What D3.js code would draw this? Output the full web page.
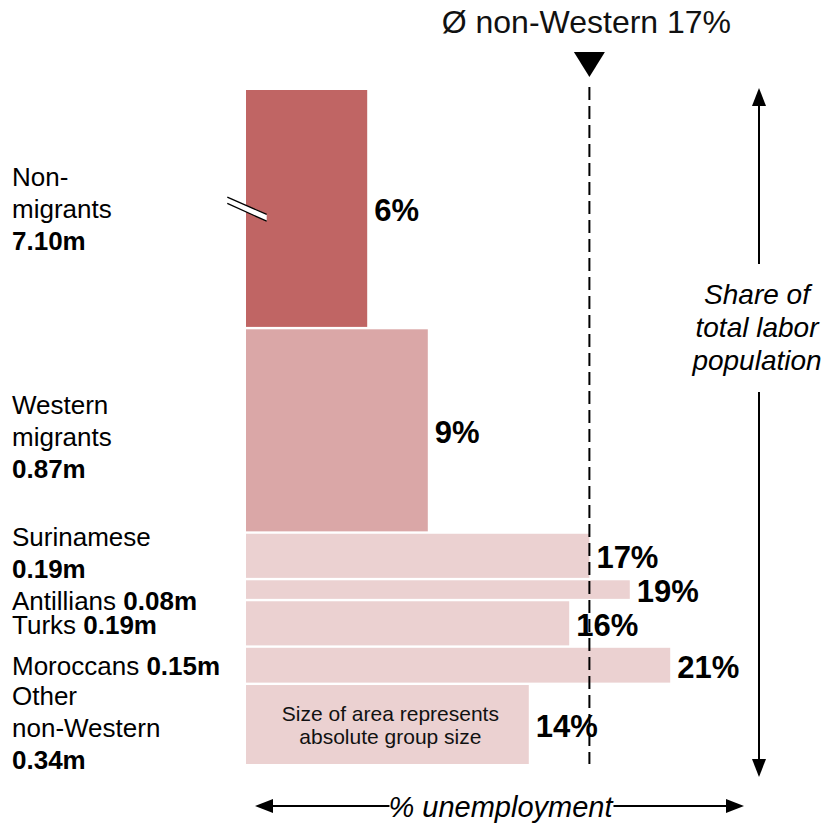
<!DOCTYPE html>
<html>
<head>
<meta charset="utf-8">
<script src="https://cdn.jsdelivr.net/npm/d3@7"></script>
<style>
  html, body { margin: 0; padding: 0; background: #fff; }
  svg { display: block; font-family: "Liberation Sans", Arial, Helvetica, sans-serif; }
</style>
</head>
<body>
<svg id="chart" width="829" height="826"></svg>
<script>
// ---- data -------------------------------------------------------------
const groups       = ["Non-migrants", "Western migrants", "Surinamese", "Antillians",
                      "Turks", "Moroccans", "Other non-Western"];
const nameLines    = [["Non-", "migrants"], ["Western", "migrants"], ["Surinamese"],
                      ["Antillians"], ["Turks"], ["Moroccans"], ["Other", "non-Western"]];
const population   = [7.10, 0.87, 0.19, 0.08, 0.19, 0.15, 0.34];   // labour force, millions
const unemployment = [6, 9, 17, 19, 16, 21, 14];                    // % unemployed
const tier         = [0, 1, 2, 2, 2, 2, 2];                         // colour tier per group
const avgNonWestern = 17;                                           // % unemployed, all non-Western
const breakCap      = 1.02;  // millions shown before the axis break on the first bar

// ---- layout -----------------------------------------------------------
const svg = d3.select("#chart");
const yStart = 90, yEnd = 764, gap = 2.4;
const tierColor = ["#c06564", "#daa7a7", "#ebd1d1"];
const sizeInline = [false, false, false, true, true, true, false];
const labelNudge = [0.6, 6, -3, 11, 1, 0.6, 3.5];
const lineStep = 32;

const x = d3.scaleLinear().domain([0, 25]).range([246, 246 + 25 * 20.2]);

const shown = population.map((p, i) => (i === 0 ? Math.min(p, breakCap) : p));
const h = d3.scaleLinear()
  .domain([0, d3.sum(shown)])
  .range([0, (yEnd - yStart) - gap * (groups.length - 1)]);

let acc = yStart;
const bars = groups.map((g, i) => {
  const y0 = acc, hh = h(shown[i]);
  acc += hh + gap;
  return { i, group: g, y0, height: hh, cy: y0 + hh / 2, pct: unemployment[i], pop: population[i] };
});

const fmtPop = d => d3.format(".2f")(d) + "m";

// ---- bars -------------------------------------------------------------
svg.append("g").selectAll("rect").data(bars).join("rect")
  .attr("x", x(0))
  .attr("y", d => d.y0)
  .attr("width", d => x(d.pct) - x(0))
  .attr("height", d => d.height)
  .attr("fill", d => tierColor[tier[d.i]]);

// axis-break mark on the truncated bar
{
  const b = bars[0], bx = x(0), by = b.cy;
  const up = [[bx - 18.7, by - 11.3], [bx + 20.7, by + 6]];
  const lo = [[bx - 18.7, by - 5], [bx + 20.7, by + 12.7]];
  const brk = svg.append("g");
  brk.append("path")
    .attr("d", d3.line()([up[0], up[1], lo[1], lo[0]]) + "Z")
    .attr("fill", "#fff");
  [up, lo].forEach(seg => brk.append("path")
    .attr("d", d3.line()(seg))
    .attr("stroke", "#000").attr("stroke-width", 1.3).attr("fill", "none"));
}

// ---- average line -----------------------------------------------------
const ax = x(avgNonWestern);
svg.append("line")
  .attr("x1", ax).attr("x2", ax).attr("y1", 87).attr("y2", yEnd)
  .attr("stroke", "#000").attr("stroke-width", 2).attr("stroke-dasharray", "13,6");
svg.append("path")
  .attr("d", d3.line()([[ax - 15.5, 52], [ax + 15.5, 52], [ax, 77]]) + "Z")
  .attr("fill", "#000");
svg.append("text")
  .attr("x", ax - 3).attr("y", 33)
  .attr("text-anchor", "middle")
  .attr("font-size", 32)
  .attr("fill", "#111")
  .text("Ø non-Western " + avgNonWestern + "%");

// ---- value labels -----------------------------------------------------
svg.append("g").selectAll("text").data(bars).join("text")
  .attr("x", d => x(d.pct) + 7)
  .attr("y", d => d.cy + 1.5)
  .attr("dy", "0.36em")
  .attr("font-size", 31)
  .attr("font-weight", "bold")
  .attr("fill", "#000")
  .text(d => d.pct + "%");

// ---- group labels -----------------------------------------------------
const lab = svg.append("g").attr("fill", "#000").attr("font-size", 26);
bars.forEach(d => {
  const names = nameLines[d.i];
  const lines = sizeInline[d.i]
    ? [{ name: names[0], size: fmtPop(d.pop) }]
    : names.map(n => ({ name: n })).concat([{ size: fmtPop(d.pop) }]);
  const c = d.cy + labelNudge[d.i];
  lines.forEach((ln, k) => {
    const t = lab.append("text")
      .attr("x", 12)
      .attr("y", c + (k - (lines.length - 1) / 2) * lineStep)
      .attr("dy", "0.36em");
    if (ln.name) t.append("tspan").text(ln.name + (ln.size ? " " : ""));
    if (ln.size) t.append("tspan").attr("font-weight", "bold").text(ln.size);
  });
});

// note inside the last bar
{
  const b = bars[bars.length - 1];
  const cx = (x(0) + x(b.pct)) / 2 + 3;
  ["Size of area represents", "absolute group size"].forEach((s, k) =>
    svg.append("text")
      .attr("x", cx).attr("y", b.cy + (k - 0.5) * 23)
      .attr("dy", "0.36em")
      .attr("text-anchor", "middle")
      .attr("font-size", 21)
      .attr("fill", "#111")
      .text(s));
}

// ---- axis arrows ------------------------------------------------------
const head = (tip, dir) => {            // dir: unit vector pointing to the tip
  const [tx, ty] = tip, [dx, dy] = dir, L = 18, W = 7;
  const bx = tx - dx * L, by = ty - dy * L;
  return d3.line()([[tx, ty], [bx - dy * W, by + dx * W], [bx + dy * W, by - dx * W]]) + "Z";
};
const arrows = svg.append("g");

// vertical: share of total labour population
{
  const vx = 759, yTop = 88, yBot = 777;
  const txt = arrows.append("text")
    .attr("text-anchor", "middle").attr("font-size", 28).attr("font-style", "italic").attr("fill", "#000");
  ["Share of", "total labor", "population"].forEach((s, k) =>
    txt.append("tspan").attr("x", vx - 2).attr("y", 294 + k * 33).attr("dy", "0.36em").text(s));
  arrows.append("line").attr("x1", vx).attr("x2", vx).attr("y1", yTop + 10).attr("y2", 264)
    .attr("stroke", "#000").attr("stroke-width", 2);
  arrows.append("line").attr("x1", vx).attr("x2", vx).attr("y1", 392).attr("y2", yBot - 10)
    .attr("stroke", "#000").attr("stroke-width", 2);
  arrows.append("path").attr("d", head([vx, yTop], [0, -1])).attr("fill", "#000");
  arrows.append("path").attr("d", head([vx, yBot], [0, 1])).attr("fill", "#000");
}

// horizontal: % unemployment
{
  const hy = 806, xL = 255, xR = 744;
  const t = arrows.append("text")
    .attr("x", (xL + xR) / 2 + 1).attr("y", hy + 1).attr("dy", "0.36em")
    .attr("text-anchor", "middle").attr("font-size", 29).attr("font-style", "italic").attr("fill", "#000")
    .text("% unemployment");
  const bb = t.node().getBBox();
  arrows.append("line").attr("x1", xL + 10).attr("x2", bb.x + 1).attr("y1", hy).attr("y2", hy)
    .attr("stroke", "#000").attr("stroke-width", 2);
  arrows.append("line").attr("x1", bb.x + bb.width - 1).attr("x2", xR - 10).attr("y1", hy).attr("y2", hy)
    .attr("stroke", "#000").attr("stroke-width", 2);
  arrows.append("path").attr("d", head([xL, hy], [-1, 0])).attr("fill", "#000");
  arrows.append("path").attr("d", head([xR, hy], [1, 0])).attr("fill", "#000");
}
</script>
</body>
</html>
